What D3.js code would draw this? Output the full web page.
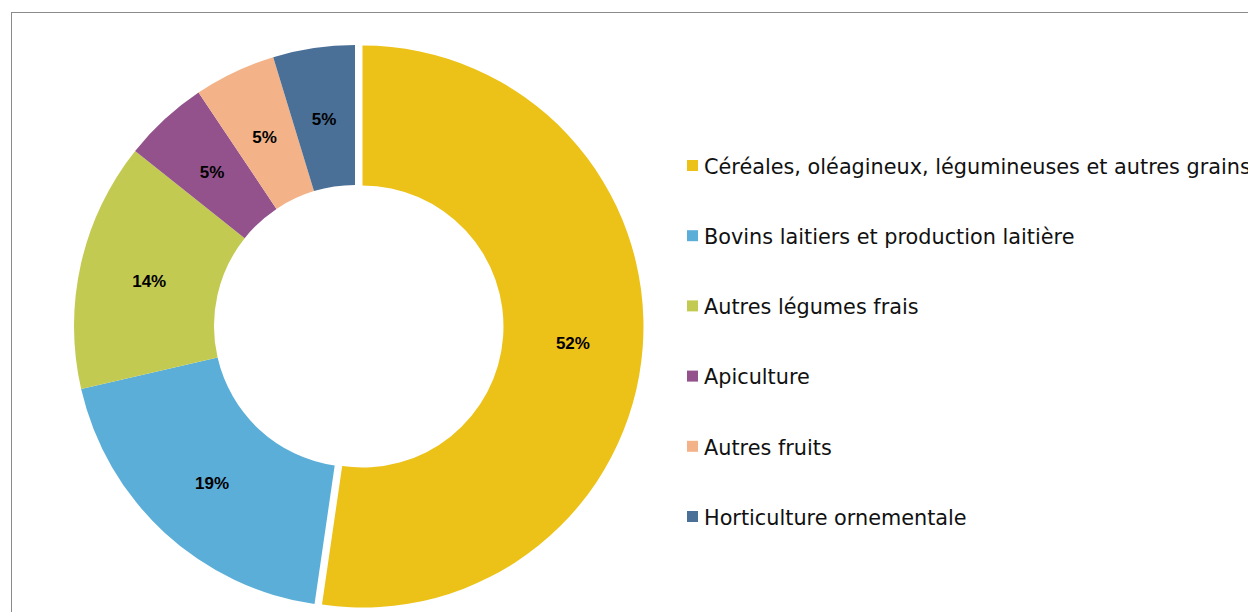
<!DOCTYPE html>
<html>
<head>
<meta charset="utf-8">
<script src="https://cdn.jsdelivr.net/npm/d3@7"></script>
<style>
  body { margin: 0; background: #fff; }
  svg { display: block; }
</style>
</head>
<body>
<script>
//Data
var categories = ["Céréales, oléagineux, légumineuses et autres grains",
                  "Bovins laitiers et production laitière",
                  "Autres légumes frais",
                  "Apiculture",
                  "Autres fruits",
                  "Horticulture ornementale"];
var shares = [52.3, 19.1, 14.3, 4.9, 4.7, 4.7];
var colours = ["#ecc118", "#5baed8", "#c3ca52", "#93528c", "#f3b287", "#4a7098"];

//Width and height
var w = 1248;
var h = 612;

var svg = d3.select("body")
            .append("svg")
            .attr("width", w)
            .attr("height", h);

//Frame
svg.append("rect")
    .attr("x", 11.5)
    .attr("y", 12.5)
    .attr("width", w)
    .attr("height", h)
    .attr("fill", "none")
    .attr("stroke", "#8a8a8a")
    .attr("stroke-width", 1);

var cx = 355, cy = 326;
var outerR = 281, innerR = 141;
var explode = 7.5;  //first slice pulled out

var pie = d3.pie().sort(null).value(function(d) { return d; });
var arc = d3.arc().innerRadius(innerR).outerRadius(outerR);

var slices = pie(shares);
var total = d3.sum(shares);

var g = svg.append("g")
    .attr("transform", "translate(" + cx + "," + cy + ")");

var slice = g.selectAll("g.slice")
    .data(slices)
    .enter()
    .append("g")
    .attr("class", "slice")
    .attr("transform", function(d, i) {
        if (i !== 0) return null;
        var a = (d.startAngle + d.endAngle) / 2;
        return "translate(" + (Math.sin(a) * explode) + "," + (-Math.cos(a) * explode) + ")";
    });

slice.append("path")
    .attr("d", arc)
    .attr("fill", function(d, i) { return colours[i]; });

slice.append("text")
    .attr("transform", function(d) { return "translate(" + arc.centroid(d) + ")"; })
    .attr("text-anchor", "middle")
    .attr("dy", "0.45em")
    .style("font-family", "'Liberation Sans', Arial, sans-serif")
    .style("font-weight", "bold")
    .style("font-size", "17px")
    .attr("fill", "#000")
    .text(function(d) { return Math.round(d.value / total * 100) + "%"; });

//Legend
var legend = svg.selectAll("g.legend")
    .data(categories)
    .enter()
    .append("g")
    .attr("class", "legend")
    .attr("transform", function(d, i) { return "translate(687," + (165.5 + i * 70.2) + ")"; });

legend.append("rect")
    .attr("x", 0)
    .attr("y", -5.5)
    .attr("width", 11)
    .attr("height", 11)
    .attr("fill", function(d, i) { return colours[i]; });

legend.append("text")
    .attr("x", 17)
    .attr("y", 0)
    .attr("dy", "0.4em")
    .style("font-family", "'DejaVu Sans', Verdana, sans-serif")
    .style("font-size", "20.8px")
    .attr("fill", "#111")
    .text(function(d) { return d; });
</script>
</body>
</html>
